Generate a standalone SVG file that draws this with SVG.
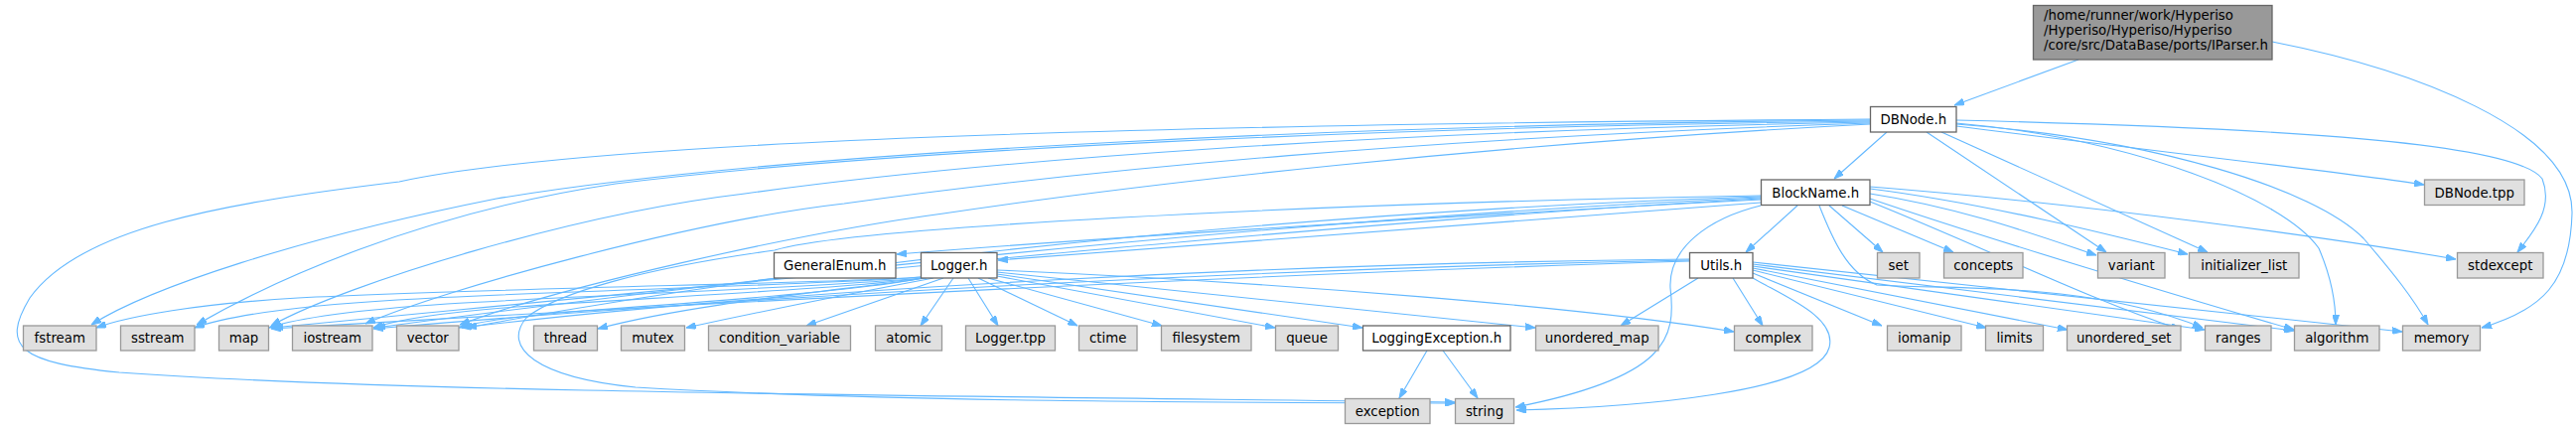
<svg xmlns="http://www.w3.org/2000/svg" width="2594" height="432" viewBox="0 0 2594 432">
<defs>
<marker id="a" viewBox="0 0 10 7" refX="10" refY="3.5" markerWidth="10" markerHeight="7" orient="auto" markerUnits="userSpaceOnUse"><path d="M0,0L10,3.5L0,7z" fill="#63b8ff" stroke="#63b8ff"/></marker>
<style>
.e{fill:none;stroke:#63b8ff;stroke-width:1.1;marker-end:url(#a)}
.n rect{fill:#ffffff;stroke:#666666;stroke-width:1.3}
.x rect{fill:#e0e0e0;stroke:#999999;stroke-width:1.3}
.c rect{fill:#999999;stroke:#666666;stroke-width:1.3}
text{font-family:"DejaVu Sans","Liberation Sans",sans-serif;font-size:13.3px;fill:#000000;text-anchor:middle}
.c text{text-anchor:start}
</style>
</defs>
<rect width="2594" height="432" fill="#ffffff"/>
<g id="edges">
<path class="e" d="M2093,60 L1968,106"/>
<path class="e" d="M2288,42 C2430,70 2592,130 2590,215 C2588,285 2560,312 2499,330"/>
<path class="e" d="M1900,133 L1847,180"/>
<path class="e" d="M1970,127 C2150,150 2350,172 2441,186"/>
<path class="e" d="M1970,121 C2250,128 2530,140 2560,180 C2572,210 2550,235 2535,254"/>
<path class="e" d="M1940,133 L2121,254"/>
<path class="e" d="M1955,133 L2223,254"/>
<path class="e" d="M1970,124 C2150,140 2300,200 2335,250 C2348,280 2352,305 2352,327"/>
<path class="e" d="M1970,125 C2170,140 2330,190 2380,240 C2410,275 2430,300 2445,327"/>
<path class="e" d="M1883,120 C1200,125 600,140 402,183 C220,205 80,230 30,300 C0,350 20,365 120,375 C400,395 900,398 1465,405"/>
<path class="e" d="M1883,121 C1400,125 800,150 500,200 C300,240 150,290 92,327"/>
<path class="e" d="M1883,122 C1400,128 900,150 620,185 C420,215 270,285 198,327"/>
<path class="e" d="M1883,123 C1400,132 1000,160 750,195 C580,215 350,285 273,328"/>
<path class="e" d="M1883,124 C1450,138 1100,170 850,205 C700,222 450,290 368,326"/>
<path class="e" d="M1883,125 C1500,145 1150,185 950,215 C800,235 560,290 463,327"/>
<path class="e" d="M1773,201 C1500,215 1100,240 903,256"/>
<path class="e" d="M1773,204 C1500,225 1150,250 1005,262"/>
<path class="e" d="M1810,207 L1758,254"/>
<path class="e" d="M1842,207 L1896,254"/>
<path class="e" d="M1855,207 L1967,254"/>
<path class="e" d="M1883,195 C1980,210 2060,240 2111,257"/>
<path class="e" d="M1883,190 C2000,205 2120,235 2203,256"/>
<path class="e" d="M1883,188 C2100,205 2350,240 2473,261"/>
<path class="e" d="M1773,207 C1720,220 1680,250 1682,290 C1688,340 1680,380 1526,410"/>
<path class="e" d="M1773,198 C1400,210 900,250 470,330"/>
<path class="e" d="M1773,199 C1400,215 900,260 378,330"/>
<path class="e" d="M1773,200 C1400,220 900,270 275,330"/>
<path class="e" d="M1832,207 C1845,240 1860,275 1890,287 C1960,292 2100,282 2218,330"/>
<path class="e" d="M1883,200 C2000,240 2200,300 2310,332"/>
<path class="e" d="M1883,203 C2000,250 2100,300 2196,332"/>
<path class="e" d="M928,279 C850,285 500,290 300,300 C200,306 130,318 97,330"/>
<path class="e" d="M928,279 C850,286 550,293 400,302 C300,308 230,318 196,330"/>
<path class="e" d="M928,280 C850,288 600,297 450,306 C360,312 300,320 271,330"/>
<path class="e" d="M929,280 C860,290 650,300 520,309 C440,315 400,322 376,330"/>
<path class="e" d="M930,280 C870,292 700,305 600,312 C520,318 480,324 462,330"/>
<path class="e" d="M933,280 C850,292 700,305 602,331"/>
<path class="e" d="M940,280 C860,295 760,315 691,330"/>
<path class="e" d="M950,280 L812,328"/>
<path class="e" d="M960,280 L927,328"/>
<path class="e" d="M975,280 L1005,328"/>
<path class="e" d="M985,280 L1085,328"/>
<path class="e" d="M995,280 L1170,328"/>
<path class="e" d="M1004,278 L1284,330"/>
<path class="e" d="M1004,276 L1372,330"/>
<path class="e" d="M1004,274 L1546,330"/>
<path class="e" d="M1004,272 C1300,285 1600,310 1746,334"/>
<path class="e" d="M1773,197 C1300,205 850,230 780,252 C650,270 560,295 530,320 C505,350 540,380 640,390 C900,405 1200,405 1465,406"/>
<path class="e" d="M1701,261 C1300,265 800,290 465,330"/>
<path class="e" d="M1701,262 C1300,270 800,295 376,331"/>
<path class="e" d="M1701,263 C1300,275 800,300 273,331"/>
<path class="e" d="M1710,280 L1632,328"/>
<path class="e" d="M1745,280 L1775,328"/>
<path class="e" d="M1765,280 C1800,300 1850,320 1842,350 C1830,395 1650,410 1527,413"/>
<path class="e" d="M1765,275 L1895,328"/>
<path class="e" d="M1765,272 L2000,330"/>
<path class="e" d="M1765,270 L2082,332"/>
<path class="e" d="M1765,268 L2220,332"/>
<path class="e" d="M1765,266 L2310,333"/>
<path class="e" d="M1765,264 L2419,334"/>
<path class="e" d="M1437,353 L1409,401"/>
<path class="e" d="M1453,353 L1488,401"/>
</g>
<g id="IParser" class="c"><rect x="2047.5" y="5.5" width="240.5" height="54.5"/><text x="2058" y="19.5">/home/runner/work/Hyperiso</text><text x="2058" y="34.5">/Hyperiso/Hyperiso/Hyperiso</text><text x="2058" y="49.5">/core/src/DataBase/ports/IParser.h</text></g>
<g id="DBNode_h" class="n"><rect x="1883.5" y="107.5" width="86.5" height="25.5"/><text x="1926.75" y="125">DBNode.h</text></g>
<g id="BlockName_h" class="n"><rect x="1773.5" y="181" width="109.5" height="25.5"/><text x="1828.25" y="198.5">BlockName.h</text></g>
<g id="DBNode_tpp" class="x"><rect x="2441.5" y="181" width="100.5" height="25.5"/><text x="2491.75" y="198.5">DBNode.tpp</text></g>
<g id="GeneralEnum_h" class="n"><rect x="779.5" y="254.5" width="122.5" height="25.5"/><text x="840.75" y="272">GeneralEnum.h</text></g>
<g id="Logger_h" class="n"><rect x="927.5" y="254.5" width="76.5" height="25.5"/><text x="965.75" y="272">Logger.h</text></g>
<g id="Utils_h" class="n"><rect x="1701.5" y="254.5" width="63.5" height="25.5"/><text x="1733.25" y="272">Utils.h</text></g>
<g id="set" class="x"><rect x="1890.5" y="254.5" width="42.5" height="25.5"/><text x="1911.75" y="272">set</text></g>
<g id="concepts" class="x"><rect x="1957.5" y="254.5" width="79.5" height="25.5"/><text x="1997.25" y="272">concepts</text></g>
<g id="variant" class="x"><rect x="2112.5" y="254.5" width="67.5" height="25.5"/><text x="2146.25" y="272">variant</text></g>
<g id="initializer_list" class="x"><rect x="2204.5" y="254.5" width="110.5" height="25.5"/><text x="2259.75" y="272">initializer_list</text></g>
<g id="stdexcept" class="x"><rect x="2474.5" y="254.5" width="86.5" height="25.5"/><text x="2517.75" y="272">stdexcept</text></g>
<g id="fstream" class="x"><rect x="23.5" y="328" width="73.5" height="25"/><text x="60.25" y="345">fstream</text></g>
<g id="sstream" class="x"><rect x="121.5" y="328" width="74.5" height="25"/><text x="158.75" y="345">sstream</text></g>
<g id="map" class="x"><rect x="220.5" y="328" width="50" height="25"/><text x="245.5" y="345">map</text></g>
<g id="iostream" class="x"><rect x="294.5" y="328" width="80.5" height="25"/><text x="334.75" y="345">iostream</text></g>
<g id="vector" class="x"><rect x="399.5" y="328" width="62.5" height="25"/><text x="430.75" y="345">vector</text></g>
<g id="thread" class="x"><rect x="537.5" y="328" width="64" height="25"/><text x="569.5" y="345">thread</text></g>
<g id="mutex" class="x"><rect x="625.5" y="328" width="64" height="25"/><text x="657.5" y="345">mutex</text></g>
<g id="condition_variable" class="x"><rect x="713.5" y="328" width="143" height="25"/><text x="785" y="345">condition_variable</text></g>
<g id="atomic" class="x"><rect x="881.5" y="328" width="67" height="25"/><text x="915" y="345">atomic</text></g>
<g id="Logger_tpp" class="x"><rect x="972.5" y="328" width="90" height="25"/><text x="1017.5" y="345">Logger.tpp</text></g>
<g id="ctime" class="x"><rect x="1086.5" y="328" width="58.5" height="25"/><text x="1115.75" y="345">ctime</text></g>
<g id="filesystem" class="x"><rect x="1169.5" y="328" width="90.5" height="25"/><text x="1214.75" y="345">filesystem</text></g>
<g id="queue" class="x"><rect x="1284.5" y="328" width="63" height="25"/><text x="1316" y="345">queue</text></g>
<g id="LoggingException_h" class="n"><rect x="1372.5" y="328" width="148.5" height="25"/><text x="1446.75" y="345">LoggingException.h</text></g>
<g id="unordered_map" class="x"><rect x="1546.5" y="328" width="123.5" height="25"/><text x="1608.25" y="345">unordered_map</text></g>
<g id="complex" class="x"><rect x="1746.5" y="328" width="78.5" height="25"/><text x="1785.75" y="345">complex</text></g>
<g id="iomanip" class="x"><rect x="1900.5" y="328" width="74.5" height="25"/><text x="1937.75" y="345">iomanip</text></g>
<g id="limits" class="x"><rect x="1999.5" y="328" width="58" height="25"/><text x="2028.5" y="345">limits</text></g>
<g id="unordered_set" class="x"><rect x="2081.5" y="328" width="114.5" height="25"/><text x="2138.75" y="345">unordered_set</text></g>
<g id="ranges" class="x"><rect x="2220.5" y="328" width="66.5" height="25"/><text x="2253.75" y="345">ranges</text></g>
<g id="algorithm" class="x"><rect x="2310.5" y="328" width="85.5" height="25"/><text x="2353.25" y="345">algorithm</text></g>
<g id="memory" class="x"><rect x="2419.5" y="328" width="78" height="25"/><text x="2458.5" y="345">memory</text></g>
<g id="exception" class="x"><rect x="1354.5" y="401.5" width="85.5" height="25"/><text x="1397.25" y="418.5">exception</text></g>
<g id="string" class="x"><rect x="1465.5" y="401.5" width="59" height="25"/><text x="1495" y="418.5">string</text></g>
</svg>
